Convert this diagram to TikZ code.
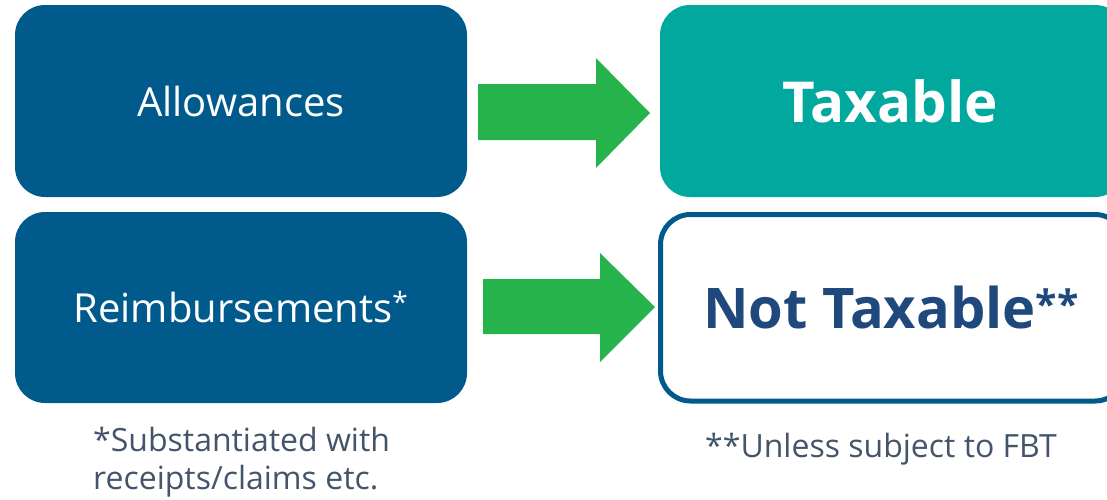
\documentclass[tikz,border=0pt]{standalone}
\usepackage{fontspec}
\setmainfont{Open Sans}
\definecolor{boxblue}{RGB}{0,90,140}
\definecolor{teal}{RGB}{0,168,157}
\definecolor{arrowgreen}{RGB}{39,179,75}
\definecolor{darktext}{RGB}{31,73,125}
\definecolor{graytext}{RGB}{68,84,106}
\tikzset{
  srcbox/.style={fill=boxblue, rounded corners=30pt, text=white, font=\fontsize{40}{48}\selectfont},
  blockarrow/.style={fill=arrowgreen},
  note/.style={text=graytext, font=\fontsize{32}{38}\selectfont, align=left, inner sep=0pt, anchor=north west}
}
\begin{document}
\begin{tikzpicture}[x=1pt,y=-1pt]
\useasboundingbox (0,0) rectangle (1107,499);
\clip (0,0) rectangle (1107,499);
% left boxes
\fill[srcbox] (15,5) rectangle (467,197);
\node[text=white, font=\fontsize{40}{48}\selectfont] (allow) at (241,101) {Allowances};
\fill[srcbox] (15,212) rectangle (467,403);
\node[text=white, font=\fontsize{40}{48}\selectfont] (reimb) at (241,307) {Reimbursements\textsuperscript{*}};
% right boxes
\fill[teal, rounded corners=30pt] (660,5) rectangle (1125,197);
\node[text=white, font=\bfseries\fontsize{56.5}{64}\selectfont] (tax) at (890,101) {Taxable};
\draw[boxblue, line width=5pt, rounded corners=30pt, fill=white] (660.5,214.5) rectangle (1125,401);
\node[text=darktext, font=\bfseries\fontsize{56}{64}\selectfont] (nottax) at (891,307) {Not Taxable\textsuperscript{**}};
% arrows
\fill[blockarrow] (478,84) -- (596,84) -- (596,58) -- (650,113) -- (596,168) -- (596,140) -- (478,140) -- cycle;
\fill[blockarrow] (483,279) -- (600,279) -- (600,253) -- (655,307) -- (600,362) -- (600,334) -- (483,334) -- cycle;
% notes
\node[note] (n1) at (93,427) {*Substantiated with\\receipts/claims etc.};
\node[note] (n2) at (705,433) {**Unless subject to FBT};
\end{tikzpicture}
\end{document}
